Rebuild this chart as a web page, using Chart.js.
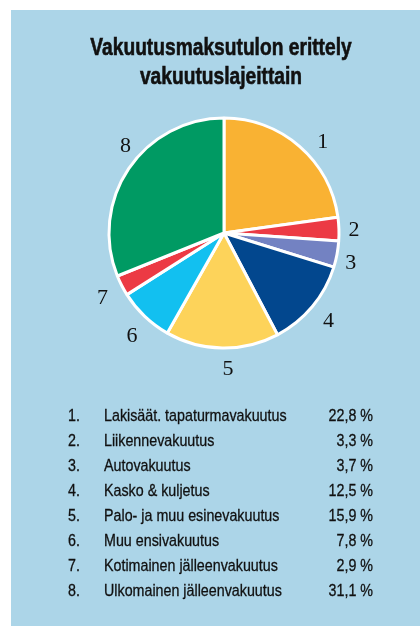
<!DOCTYPE html>
<html>
<head>
<meta charset="utf-8">
<script src="https://cdn.jsdelivr.net/npm/chart.js@4/dist/chart.umd.min.js"></script>
<style>
  html, body { margin: 0; padding: 0; background: #ffffff; }
  #panel {
    position: absolute; left: 11px; top: 10px;
    width: 409px; height: 616px;
    background: #acd5e8;
  }
  #chart { display: block; }
</style>
</head>
<body>
<div id="panel"><canvas id="chart" width="409" height="616"></canvas></div>
<script>
const titleLines = ['Vakuutusmaksutulon erittely', 'vakuutuslajeittain'];
const categories = [
    'Lakisäät. tapaturmavakuutus',
    'Liikennevakuutus',
    'Autovakuutus',
    'Kasko & kuljetus',
    'Palo- ja muu esinevakuutus',
    'Muu ensivakuutus',
    'Kotimainen jälleenvakuutus',
    'Ulkomainen jälleenvakuutus'
];
const shares = [22.8, 3.3, 3.7, 12.5, 15.9, 7.8, 2.9, 31.1];
const sliceColors = ['#f9b233', '#ec3a44', '#7382c2', '#02478e', '#fdd35a', '#12c0f0', '#ec3a44', '#009a63'];
// small hand nudges for the numbers around the pie (dx, dy)
const numberNudge = [[12, 9], [-2, 2], [-3, 6], [3, 4], [6, 4], [-1, 8], [-4, 5], [11, -13]];

// draws the title, the numbers round the pie and the numbered list below it
const textPlugin = {
    id: 'texts',
    afterDraw(chart) {
        const ctx = chart.ctx;
        const meta = chart.getDatasetMeta(0);
        ctx.save();
        ctx.fillStyle = '#111111';
        ctx.strokeStyle = '#111111';

        // title, condensed by scaling
        ctx.font = 'bold 24px "Liberation Sans", Arial, sans-serif';
        ctx.textAlign = 'center';
        ctx.textBaseline = 'alphabetic';
        ctx.lineWidth = 0.6;
        titleLines.forEach((line, i) => {
            ctx.save();
            ctx.translate(210, 45 + i * 29);
            ctx.scale(0.8, 1);
            ctx.fillText(line, 0, 0);
            ctx.strokeText(line, 0, 0);
            ctx.restore();
        });

        // slice numbers
        ctx.font = '22px "Liberation Serif", "Times New Roman", serif';
        ctx.textBaseline = 'middle';
        meta.data.forEach((arc, i) => {
            const mid = (arc.startAngle + arc.endAngle) / 2;
            const r = arc.outerRadius + 17;
            const [nx, ny] = numberNudge[i];
            ctx.fillText(String(i + 1), arc.x + Math.cos(mid) * r + nx, arc.y + Math.sin(mid) * r + ny);
        });

        // list
        ctx.font = '17px "Liberation Sans", Arial, sans-serif';
        ctx.textBaseline = 'alphabetic';
        ctx.lineWidth = 0.3;
        categories.forEach((name, i) => {
            const y = 411 + i * 25;
            const cells = [
                [57, 'left', (i + 1) + '.'],
                [93, 'left', name],
                [362, 'right', shares[i].toFixed(1).replace('.', ',') + ' %']
            ];
            cells.forEach(([x, align, txt]) => {
                ctx.save();
                ctx.translate(x, y);
                ctx.scale(0.84, 1);
                ctx.textAlign = align;
                ctx.fillText(txt, 0, 0);
                ctx.strokeText(txt, 0, 0);
                ctx.restore();
            });
        });
        ctx.restore();
    }
};

new Chart(document.getElementById('chart'), {
    type: 'pie',
    data: {
        labels: categories,
        datasets: [{
            data: shares,
            backgroundColor: sliceColors,
            borderColor: '#ffffff',
            borderWidth: 3,
            radius: 115
        }]
    },
    options: {
        responsive: false,
        animation: false,
        layout: { padding: { left: 93, right: 76, top: 103, bottom: 273 } },
        plugins: {
            legend: { display: false },
            tooltip: { enabled: false },
            title: { display: false }
        }
    },
    plugins: [textPlugin]
});
</script>
</body>
</html>
